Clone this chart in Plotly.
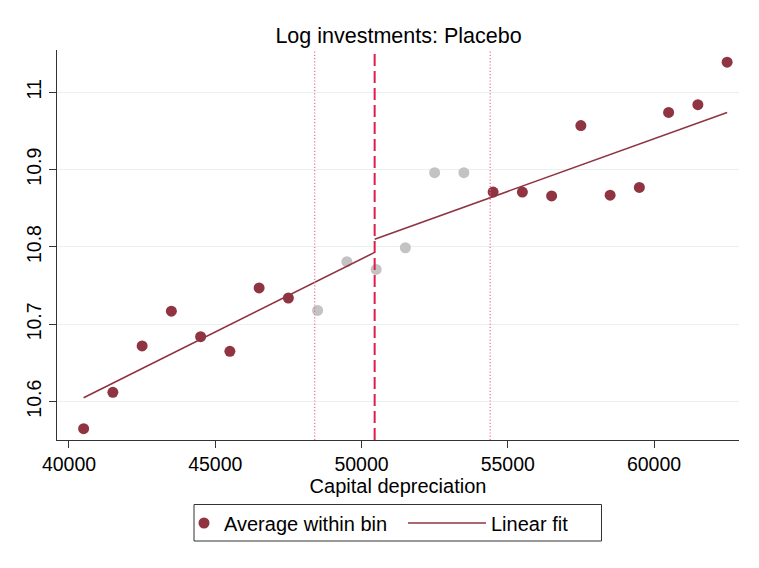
import plotly.graph_objects as go

# Bin centres of capital depreciation and the average log investment in each bin
bin_centres = [40500, 41500, 42500, 43500, 44500, 45500, 46500, 47500,
               48500, 49500, 50500, 51500, 52500, 53500,
               54500, 55500, 56500, 57500, 58500, 59500, 60500, 61500, 62500]
bin_means = [10.565, 10.612, 10.672, 10.717, 10.684, 10.665, 10.747, 10.734,
             10.718, 10.781, 10.771, 10.799, 10.896, 10.896,
             10.871, 10.871, 10.866, 10.957, 10.867, 10.877, 10.974, 10.984, 11.039]

# Placebo cutoff and the excluded window around it
cutoff = 50450
window_low = 48400
window_high = 54400

# Linear fits on each side of the cutoff (end points)
fit_left_x = [40500, cutoff]
fit_left_y = [10.605, 10.793]
fit_right_x = [cutoff, 62500]
fit_right_y = [10.810, 10.974]

x_ticks = [40000, 45000, 50000, 55000, 60000]
y_ticks = [10.6, 10.7, 10.8, 10.9, 11.0]
y_tick_text = ["10.6", "10.7", "10.8", "10.9", "11"]

MAROON = "#8f3440"
GREY = "#c3c3c3"

inside_x = [x for x in bin_centres if window_low <= x <= window_high]
inside_y = [y for x, y in zip(bin_centres, bin_means) if window_low <= x <= window_high]
outside_x = [x for x in bin_centres if not (window_low <= x <= window_high)]
outside_y = [y for x, y in zip(bin_centres, bin_means) if not (window_low <= x <= window_high)]

fig = go.Figure()

fig.add_trace(go.Scatter(
    x=outside_x, y=outside_y, mode="markers", name="Average within bin",
    marker=dict(color=MAROON, size=11, line=dict(width=0)),
    legend="legend",
))
fig.add_trace(go.Scatter(
    x=inside_x, y=inside_y, mode="markers", showlegend=False,
    marker=dict(color=GREY, size=11, line=dict(width=0)),
))
fig.add_trace(go.Scatter(
    x=fit_left_x + [None] + fit_right_x,
    y=fit_left_y + [None] + fit_right_y,
    mode="lines", name="Linear fit",
    line=dict(color=MAROON, width=1.6),
    legend="legend2",
))

# Cutoff and window boundaries
fig.add_shape(type="line", xref="x", yref="paper", x0=cutoff, x1=cutoff, y0=0, y1=1,
              line=dict(color="#dc1f4a", width=2, dash="12px,5px"))
for xv in (window_low, window_high):
    fig.add_shape(type="line", xref="x", yref="paper", x0=xv, x1=xv, y0=0, y1=1,
                  line=dict(color="#ec6f92", width=1.2, dash="1.2px,2px"))

# Legend frame
W_PLOT, H_PLOT, L, T = 682, 390, 57, 50
def px_x(p):
    return (p - L) / W_PLOT
def px_y(p):
    return (T + H_PLOT - p) / H_PLOT

fig.add_shape(type="rect", xref="paper", yref="paper",
              x0=px_x(194), x1=px_x(601.5), y0=px_y(541), y1=px_y(504.5),
              line=dict(color="#333333", width=1), fillcolor="rgba(0,0,0,0)")

FONT = "Arial, Liberation Sans, sans-serif"

fig.update_layout(
    width=759, height=568,
    margin=dict(l=L, r=20, t=T, b=128),
    paper_bgcolor="white", plot_bgcolor="white",
    font=dict(family=FONT, size=20, color="black"),
    title=dict(text="Log investments: Placebo", x=(L + 341.5) / 759,
               xanchor="center", y=1 - 35 / 568, yanchor="middle",
               font=dict(size=21.5, color="black")),
    xaxis=dict(range=[39590, 62906], tickvals=x_ticks,
               ticktext=[str(v) for v in x_ticks],
               showgrid=False, zeroline=False, showline=True,
               linecolor="#333333", linewidth=1, ticks="outside", ticklen=7,
               tickcolor="#333333", tickfont=dict(size=19.5),
               title=dict(text="Capital depreciation", standoff=1, font=dict(size=20))),
    yaxis=dict(range=[10.5504, 11.0547], tickvals=y_ticks, ticktext=y_tick_text,
               tickangle=-90, showgrid=True, gridcolor="#e8f0f2", gridwidth=1,
               zeroline=False, showline=True, linecolor="#333333", linewidth=1,
               ticks="outside", ticklen=7, tickcolor="#333333", tickfont=dict(size=19.5)),
    legend=dict(orientation="h", x=px_x(184), xanchor="left", y=px_y(523), yanchor="middle",
                bgcolor="rgba(0,0,0,0)", borderwidth=0, itemwidth=30,
                font=dict(size=20)),
    legend2=dict(orientation="h", x=px_x(403), xanchor="left", y=px_y(523), yanchor="middle",
                 bgcolor="rgba(0,0,0,0)", borderwidth=0, itemwidth=78,
                 font=dict(size=20)),
)

fig.write_html("out.html")
